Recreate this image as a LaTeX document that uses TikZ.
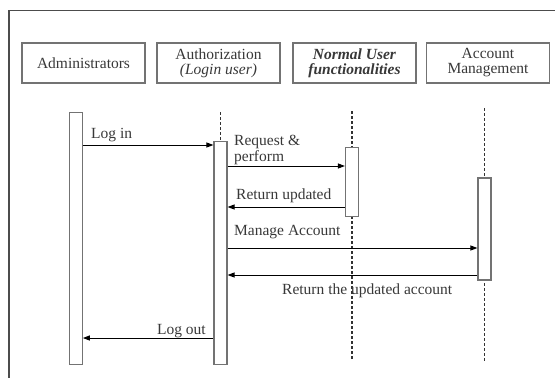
\documentclass[tikz,border=0pt]{standalone}
\usepackage{fontspec}
\setmainfont{Liberation Serif}
\usetikzlibrary{positioning, calc, arrows.meta}

\begin{document}
\begin{tikzpicture}
		[x=1pt, y=-1pt,
		every node/.style={text=black!78},
		actor/.style={draw=black!55, line width=1.3pt, minimum width=123pt, minimum height=40pt,
			align=center, inner sep=0pt, font=\fontsize{15.5}{15}\selectfont},
		bar/.style={draw=black!55, line width=1.1pt, fill=white, minimum width=13pt, inner sep=0pt},
		life/.style={black!80, line width=1.1pt, densely dashed},
		msg/.style={black, line width=1pt, -{Triangle[length=7pt, width=5pt]}},
		lbl/.style={inner sep=0pt, align=left, font=\fontsize{15.5}{16}\selectfont}]
		\useasboundingbox (0,0) rectangle (555,378);
		\draw[black!70, line width=1.5pt] (9,378) -- (9,10.5) -- (555,10.5);

		% actors
		\node[actor] (adm) at (83.5,63) {Administrators};
		\node[actor] (auth) at (218.5,63) {Authorization\\\textit{(Login user)}};
		\node[actor] (user) at (354.5,63) {\textbf{\textit{Normal User}}\\\textbf{\textit{functionalities}}};
		\node[actor] (acct) at (488,63) {Account\\Management};

		% lifelines
		\coordinate (auth-s) at (220.5,112);
		\coordinate (user-s) at (352,111);
		\coordinate (user-e) at (352,360);
		\coordinate (acct-s) at (484.5,108);
		\coordinate (acct-e) at (484.5,362);
		\draw[life] (user-s) -- (user-e);
		\draw[life] (acct-s) -- (acct-e);

		% activations
		\node[bar, minimum height=252pt] (admbar) at (75.8,238.6) {};
		\node[bar, minimum height=223pt] (authbar) at (220.5,253.2) {};
		\node[bar, minimum height=69pt] (userbar) at (352,182.4) {};
		\node[bar, minimum height=102pt] (acctbar) at (484.5,229) {};
		\draw[life] (auth-s) -- (authbar.north);

		% messages
		\draw[msg] (admbar.east |- 0,145) -- (authbar.west |- 0,145);
		\node[lbl, anchor=west] (login) at (91,135) {Log in};
		\draw[msg] (authbar.east |- 0,166) -- (userbar.west |- 0,166);
		\node[lbl, anchor=west] (req) at (234,150) {Request \&\\perform};
		\draw[msg] (userbar.west |- 0,207) -- (authbar.east |- 0,207);
		\node[lbl, anchor=west] (ret) at (236,196) {Return updated};
		\draw[msg] (authbar.east |- 0,248) -- (acctbar.west |- 0,248);
		\node[lbl, anchor=west] (manage) at (234,232) {Manage Account};
		\draw[msg] (acctbar.west |- 0,275) -- (authbar.east |- 0,275);
		\node[lbl, anchor=west] (retacc) at (282,291) {Return the updated account};
		\draw[msg] (authbar.west |- 0,338) -- (admbar.east |- 0,338);
		\node[lbl, anchor=east] (logout) at (206,331) {Log out};
	\end{tikzpicture}
\end{document}
